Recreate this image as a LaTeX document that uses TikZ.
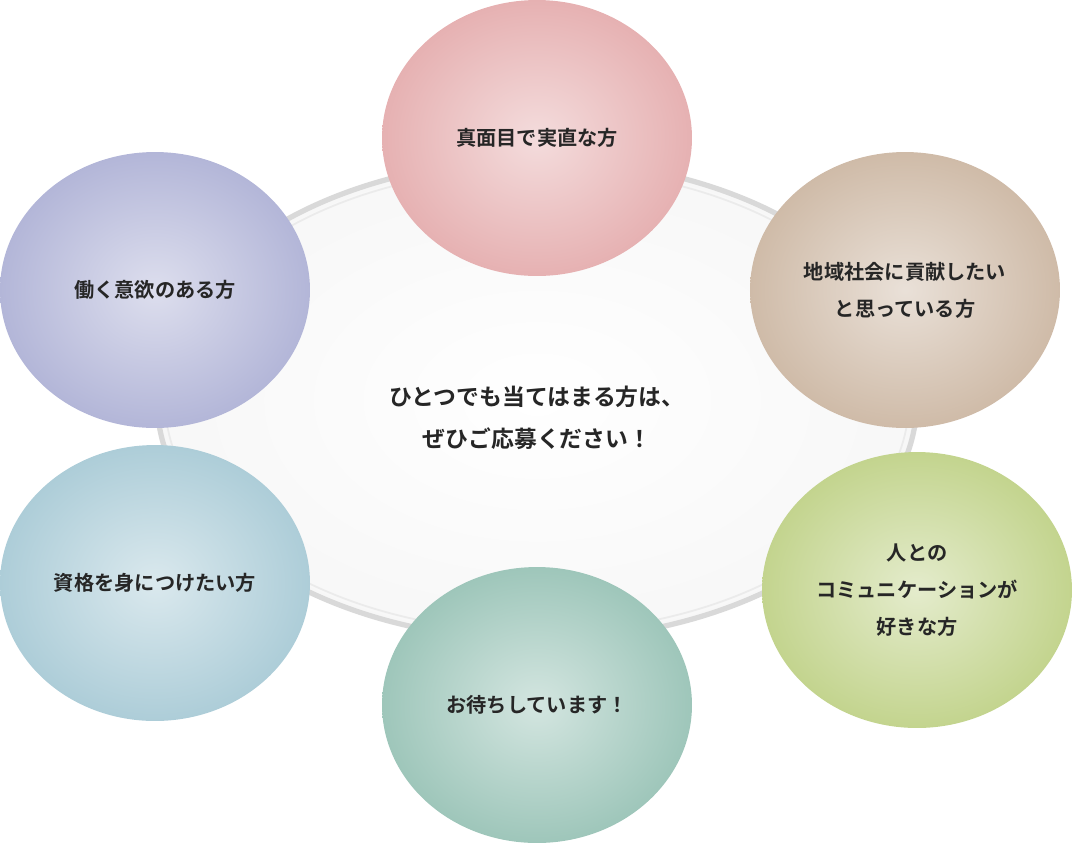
\documentclass[tikz,border=0pt]{standalone}
\usepackage{fontspec}
\setmainfont{Noto Sans CJK JP}[BoldFont={Noto Sans CJK JP Bold}]
\usetikzlibrary{shapes.geometric}

\tikzset{
  bubble/.style={ellipse,minimum width=6.2cm,minimum height=5.52cm,
    align=center,font=\bfseries\fontsize{11.5}{21}\selectfont,text=black!85},
  pinkball/.style={bubble,inner color=#1!45!white,outer color=#1}
}
\definecolor{ballpink}{HTML}{E6B1B2}
\definecolor{balltan}{HTML}{CFBBA8}
\definecolor{ballgreen}{HTML}{C3D48E}
\definecolor{ballteal}{HTML}{9EC6BA}
\definecolor{ballblue}{HTML}{ADCDD8}
\definecolor{balllav}{HTML}{B3B6D8}

\begin{document}
\begin{tikzpicture}[x=0.02cm,y=-0.02cm]
  \useasboundingbox (0,0) rectangle (1074,843);

  % central ring
  \node[ellipse,minimum width=15.2cm,minimum height=9.6cm,
    inner color=white,outer color=black!3,draw=black!15,line width=3pt]
    (center) at (537,400) {};
  \draw[black!8,line width=1pt] (537,400) ellipse [x radius=372,y radius=232];
  \node[font=\bfseries\fontsize{13}{24}\selectfont,align=center,text=black!85]
    (msg) at (537,418) {ひとつでも当てはまる方は、\\ぜひご応募ください！};

  \node[pinkball=ballpink] (serious) at (537,138) {真面目で実直な方};
  \node[pinkball=balltan] (local) at (905,290) {地域社会に貢献したい\\と思っている方};
  \node[pinkball=ballgreen] (people) at (917,590) {人との\\コミュニケーションが\\好きな方};
  \node[pinkball=ballteal] (wait) at (537,705) {お待ちしています！};
  \node[pinkball=ballblue] (license) at (155,583) {資格を身につけたい方};
  \node[pinkball=balllav] (work) at (155,290) {働く意欲のある方};
\end{tikzpicture}
\end{document}
